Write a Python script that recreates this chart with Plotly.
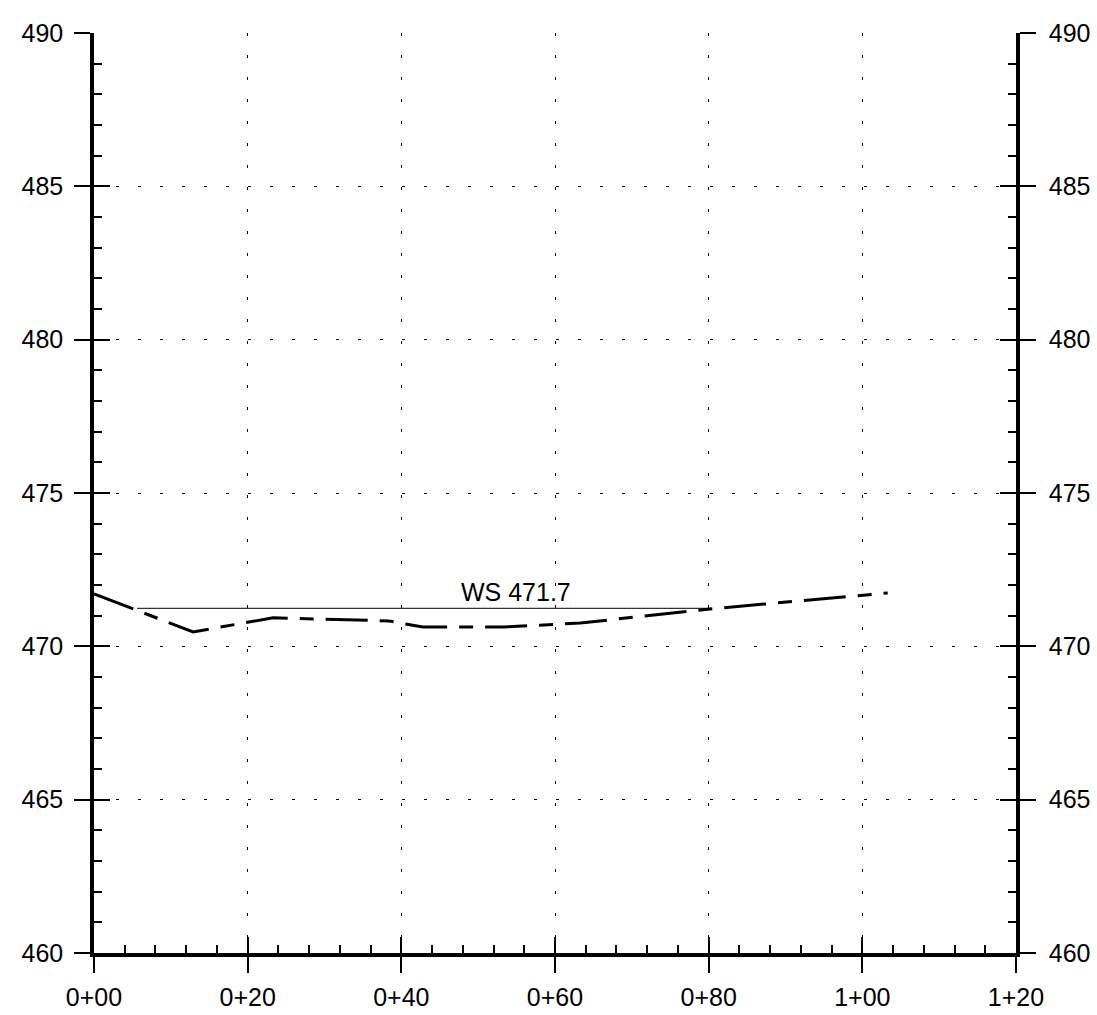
import plotly.graph_objects as go

# ground profile (station, elevation)
ground_sta = [0, 12.9, 23.3, 38.3, 42.8, 53.2, 63.3, 80.2, 103.3]
ground_elev = [471.71, 470.47, 470.93, 470.83, 470.63, 470.63, 470.76, 471.22, 471.74]

# water surface
ws_sta = [5.6, 80.2]
ws_elev = [471.24, 471.24]
ws_label = "WS 471.7"
ws_label_sta = 54.9

x_ticks = [0, 20, 40, 60, 80, 100, 120]
x_ticktext = [f"{v // 100}+{v % 100:02d}" for v in x_ticks]
y_ticks = [460, 465, 470, 475, 480, 485, 490]

FONT = dict(family="Liberation Sans, Arial, sans-serif", size=25, color="black")
AXLINE = 3.5

fig = go.Figure()
fig.add_trace(go.Scatter(x=ws_sta, y=ws_elev, mode="lines",
                         line=dict(color="black", width=1), hoverinfo="skip"))
fig.add_trace(go.Scatter(x=ground_sta, y=ground_elev, mode="lines",
                         line=dict(color="black", width=3, dash="42px,12px,14px,12px")))
# dummy traces so the overlay axes get drawn
fig.add_trace(go.Scatter(x=[None], y=[None], xaxis="x2", yaxis="y2", showlegend=False))
fig.add_trace(go.Scatter(x=[None], y=[None], xaxis="x", yaxis="y3", showlegend=False))
fig.add_trace(go.Scatter(x=[None], y=[None], xaxis="x", yaxis="y4", showlegend=False))

fig.add_annotation(x=ws_label_sta, y=ws_elev[0], text=ws_label, showarrow=False,
                   yanchor="bottom", yshift=0, font=FONT)

common_x = dict(range=[0, 120], tickvals=x_ticks)
common_y = dict(range=[460, 490], tickvals=y_ticks)

fig.update_layout(
    width=1097, height=1015,
    margin=dict(l=94, r=81, t=33, b=62, autoexpand=False),
    plot_bgcolor="white", paper_bgcolor="white",
    showlegend=False, font=FONT,
    xaxis=dict(**common_x, ticktext=x_ticktext, ticks="outside", ticklen=16, tickwidth=2,
               tickcolor="black", showline=True, linewidth=AXLINE, linecolor="black",
               showgrid=True, gridcolor="black", gridwidth=1, griddash="3px,19px",
               zeroline=False, tickfont=FONT, ticklabelstandoff=3),
    xaxis2=dict(**common_x, overlaying="x", side="bottom", anchor="y", matches="x",
                ticks="inside", ticklen=16, tickwidth=2, tickcolor="black",
                showticklabels=False, showgrid=False, zeroline=False, showline=False,
                minor=dict(ticks="inside", ticklen=8, tickwidth=2, tickcolor="black", dtick=4,
                           showgrid=False)),
    yaxis=dict(**common_y, ticks="outside", ticklen=16, tickwidth=2, tickcolor="black",
               showline=True, linewidth=AXLINE, linecolor="black",
               showgrid=True, gridcolor="black", gridwidth=1, griddash="3px,19px",
               zeroline=False, tickfont=FONT, ticklabelstandoff=6),
    yaxis2=dict(**common_y, overlaying="y", side="left", anchor="x", matches="y",
                ticks="inside", ticklen=16, tickwidth=2, tickcolor="black",
                showticklabels=False, showgrid=False, zeroline=False, showline=False,
                minor=dict(ticks="inside", ticklen=8, tickwidth=2, tickcolor="black", dtick=1,
                           showgrid=False)),
    yaxis3=dict(**common_y, overlaying="y", side="right", anchor="x", matches="y",
                ticks="outside", ticklen=16, tickwidth=2, tickcolor="black",
                showline=True, linewidth=AXLINE, linecolor="black",
                showgrid=False, zeroline=False, tickfont=FONT, ticklabelstandoff=8),
    yaxis4=dict(**common_y, overlaying="y", side="right", anchor="x", matches="y",
                ticks="inside", ticklen=16, tickwidth=2, tickcolor="black",
                showticklabels=False, showgrid=False, zeroline=False, showline=False,
                minor=dict(ticks="inside", ticklen=8, tickwidth=2, tickcolor="black", dtick=1,
                           showgrid=False)),
)

# drop the default 8px page margin so the figure fills the window exactly
fig.write_html("out.html", config={"displayModeBar": False},
               post_script="document.body.style.margin='0';")
